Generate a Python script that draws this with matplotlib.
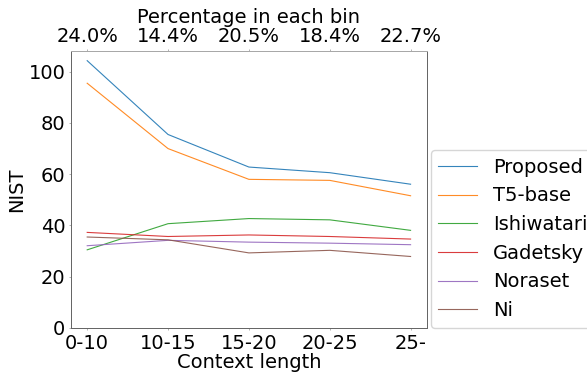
import matplotlib
matplotlib.use("Agg")
import matplotlib.pyplot as plt

bins = ['0-10', '10-15', '15-20', '20-25', '25-']
percent = ['24.0%', '14.4%', '20.5%', '18.4%', '22.7%']

proposed = [104.3, 75.5, 62.8, 60.6, 56.1]
t5_base = [95.5, 70.0, 58.0, 57.6, 51.6]
ishiwatari = [30.5, 40.7, 42.7, 42.2, 38.1]
gadetsky = [37.3, 35.7, 36.3, 35.7, 34.7]
noraset = [32.1, 34.2, 33.5, 33.1, 32.5]
ni = [35.5, 34.4, 29.3, 30.3, 27.9]

series = [('Proposed', proposed), ('T5-base', t5_base), ('Ishiwatari', ishiwatari),
          ('Gadetsky', gadetsky), ('Noraset', noraset), ('Ni', ni)]

plt.rcParams['font.size'] = 14
fig = plt.figure(figsize=(5.87, 3.77), dpi=100)
fig.subplots_adjust(left=0.121, right=0.727, top=0.865, bottom=0.130)
ax = fig.add_subplot(111)

x = range(len(bins))
for name, vals in series:
    ax.plot(x, vals, lw=0.8, alpha=0.9, label=name)

ax.set_ylim(bottom=0)
ax.set_yticks([0, 20, 40, 60, 80, 100])
ax.set_xticks(list(x))
ax.set_xticklabels(bins)
ax.set_xlabel('Context length', labelpad=0)
ax.set_ylabel('NIST', labelpad=2)
ax.tick_params(length=1.5, width=0.4, pad=2.5, color='#777777')
for s in ax.spines.values():
    s.set_color('#666666')
    s.set_linewidth(0.7)

ax2 = ax.twiny()
ax2.set_xlim(ax.get_xlim())
ax2.set_xticks(list(x))
ax2.set_xticklabels(percent)
ax2.set_xlabel('Percentage in each bin', labelpad=3)
ax2.tick_params(length=1.5, width=0.4, pad=2, color='#777777')
for s in ax2.spines.values():
    s.set_color('#666666')
    s.set_linewidth(0.7)
ax2.spines['top'].set_color('#aaaaaa')

ax.legend(loc='lower left', bbox_to_anchor=(1.011, 0.0), borderaxespad=0.0)

fig.savefig('out.png', dpi=100)
